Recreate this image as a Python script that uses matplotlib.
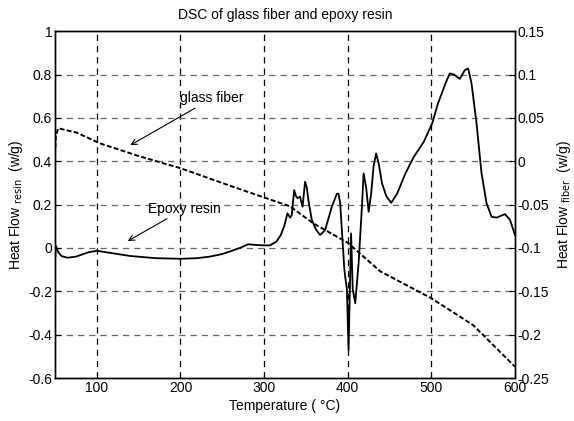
import matplotlib
matplotlib.use("Agg")
import matplotlib.pyplot as plt

plt.rcParams['font.family'] = ['Liberation Sans', 'DejaVu Sans']

resin_T = [50, 51, 54, 58, 65, 75, 90, 100, 120, 140, 170, 200, 220, 235, 250, 260, 271, 281,
           290, 300, 307, 315, 320, 324, 328, 331, 333, 336, 338, 340, 343, 346, 349, 351,
           353, 357, 362, 367, 373, 381, 387, 389, 391, 393, 396, 397, 399, 401, 404, 406,
           409, 413, 417, 419, 422, 425, 428, 431, 434, 437, 441, 446, 452, 459, 469, 479,
           491, 501, 508, 517, 522, 527, 534, 540, 544, 548, 554, 560, 566, 572, 578, 588,
           594, 600]
resin_hf = [-0.06, 0.01, -0.02, -0.038, -0.045, -0.04, -0.02, -0.013, -0.025, -0.037, -0.047,
            -0.05, -0.047, -0.04, -0.028, -0.015, 0.0, 0.017, 0.014, 0.012, 0.012, 0.03, 0.06,
            0.1, 0.16, 0.14, 0.15, 0.267, 0.24, 0.23, 0.236, 0.19, 0.305, 0.28, 0.22, 0.13,
            0.085, 0.06, 0.083, 0.19, 0.25, 0.25, 0.207, 0.083, -0.1, -0.133, -0.19, -0.47,
            0.067, -0.19, -0.255, -0.07, 0.19, 0.344, 0.28, 0.167, 0.25, 0.38, 0.436, 0.39,
            0.298, 0.24, 0.208, 0.25, 0.344, 0.42, 0.49, 0.575, 0.667, 0.76, 0.805, 0.80,
            0.78, 0.82, 0.828, 0.76, 0.575, 0.344, 0.206, 0.144, 0.14, 0.156, 0.13, 0.06]

fiber_T = [50, 51, 54, 76, 104, 150, 200, 263, 331, 359, 400, 439, 500, 550, 600]
fiber_hf = [0.007, 0.03, 0.038, 0.033, 0.0205, 0.006, -0.008, -0.0295, -0.052, -0.0717,
            -0.094, -0.127, -0.158, -0.189, -0.237]

x_ticks = [100, 200, 300, 400, 500, 600]
left_ticks = [-0.6, -0.4, -0.2, 0, 0.2, 0.4, 0.6, 0.8, 1]
left_labels = ['-0.6', '-0.4', '-0.2', '0', '0.2', '0.4', '0.6', '0.8', '1']
right_ticks = [-0.25, -0.2, -0.15, -0.1, -0.05, 0, 0.05, 0.1, 0.15]
right_labels = ['-0.25', '-0.2', '-0.15', '-0.1', '-0.05', '0', '0.05', '0.1', '0.15']

FS = 10

fig = plt.figure(figsize=(5.74, 4.21), dpi=100)
ax = fig.add_axes([0.0958, 0.102, 0.8014, 0.824])
ax2 = ax.twinx()

ax.plot(resin_T, resin_hf, color='black', lw=1.3)
ax2.plot(fiber_T, fiber_hf, color='black', lw=1.4, linestyle=(0, (2.5, 1.2)))

ax.set_xlim(50, 600)
ax.set_ylim(-0.6, 1)
ax2.set_ylim(-0.25, 0.15)
ax.set_xticks(x_ticks)
ax.set_xticklabels([str(t) for t in x_ticks])
ax.set_yticks(left_ticks)
ax.set_yticklabels(left_labels)
ax2.set_yticks(right_ticks)
ax2.set_yticklabels(right_labels)

for a in (ax, ax2):
    a.tick_params(direction='in', labelsize=FS, length=4, width=0.8, pad=2)
    for s in a.spines.values():
        s.set_linewidth(1.0)

for t in x_ticks[:-1]:
    ax.axvline(t, color='black', lw=0.9, linestyle=(0, (5, 4)), zorder=0)
for v in left_ticks[1:-1]:
    ax.axhline(v, color='#666666', lw=0.9, linestyle=(0, (5, 4)), zorder=0)

ax.set_xlabel('Temperature ( °C)', fontsize=FS, labelpad=3)
ax.set_ylabel('Heat Flow $_{\\mathrm{resin}}$  (w/g)', fontsize=FS, labelpad=2)
ax2.set_ylabel('Heat Flow $_{\\mathrm{fiber}}$  (w/g)', fontsize=FS, labelpad=4, rotation=90)
ax.set_title('DSC of glass fiber and epoxy resin', fontsize=FS, pad=9)

ax.annotate('glass fiber', xy=(140, 0.474), xytext=(200, 0.69), fontsize=FS,
            va='center', ha='left',
            arrowprops=dict(arrowstyle='->', color='black', lw=0.8, shrinkA=0, shrinkB=0))
ax.annotate('Epoxy resin', xy=(137, 0.032), xytext=(161, 0.18), fontsize=FS,
            va='center', ha='left',
            arrowprops=dict(arrowstyle='->', color='black', lw=0.8, shrinkA=0, shrinkB=0))

fig.savefig('out.png', dpi=100)
